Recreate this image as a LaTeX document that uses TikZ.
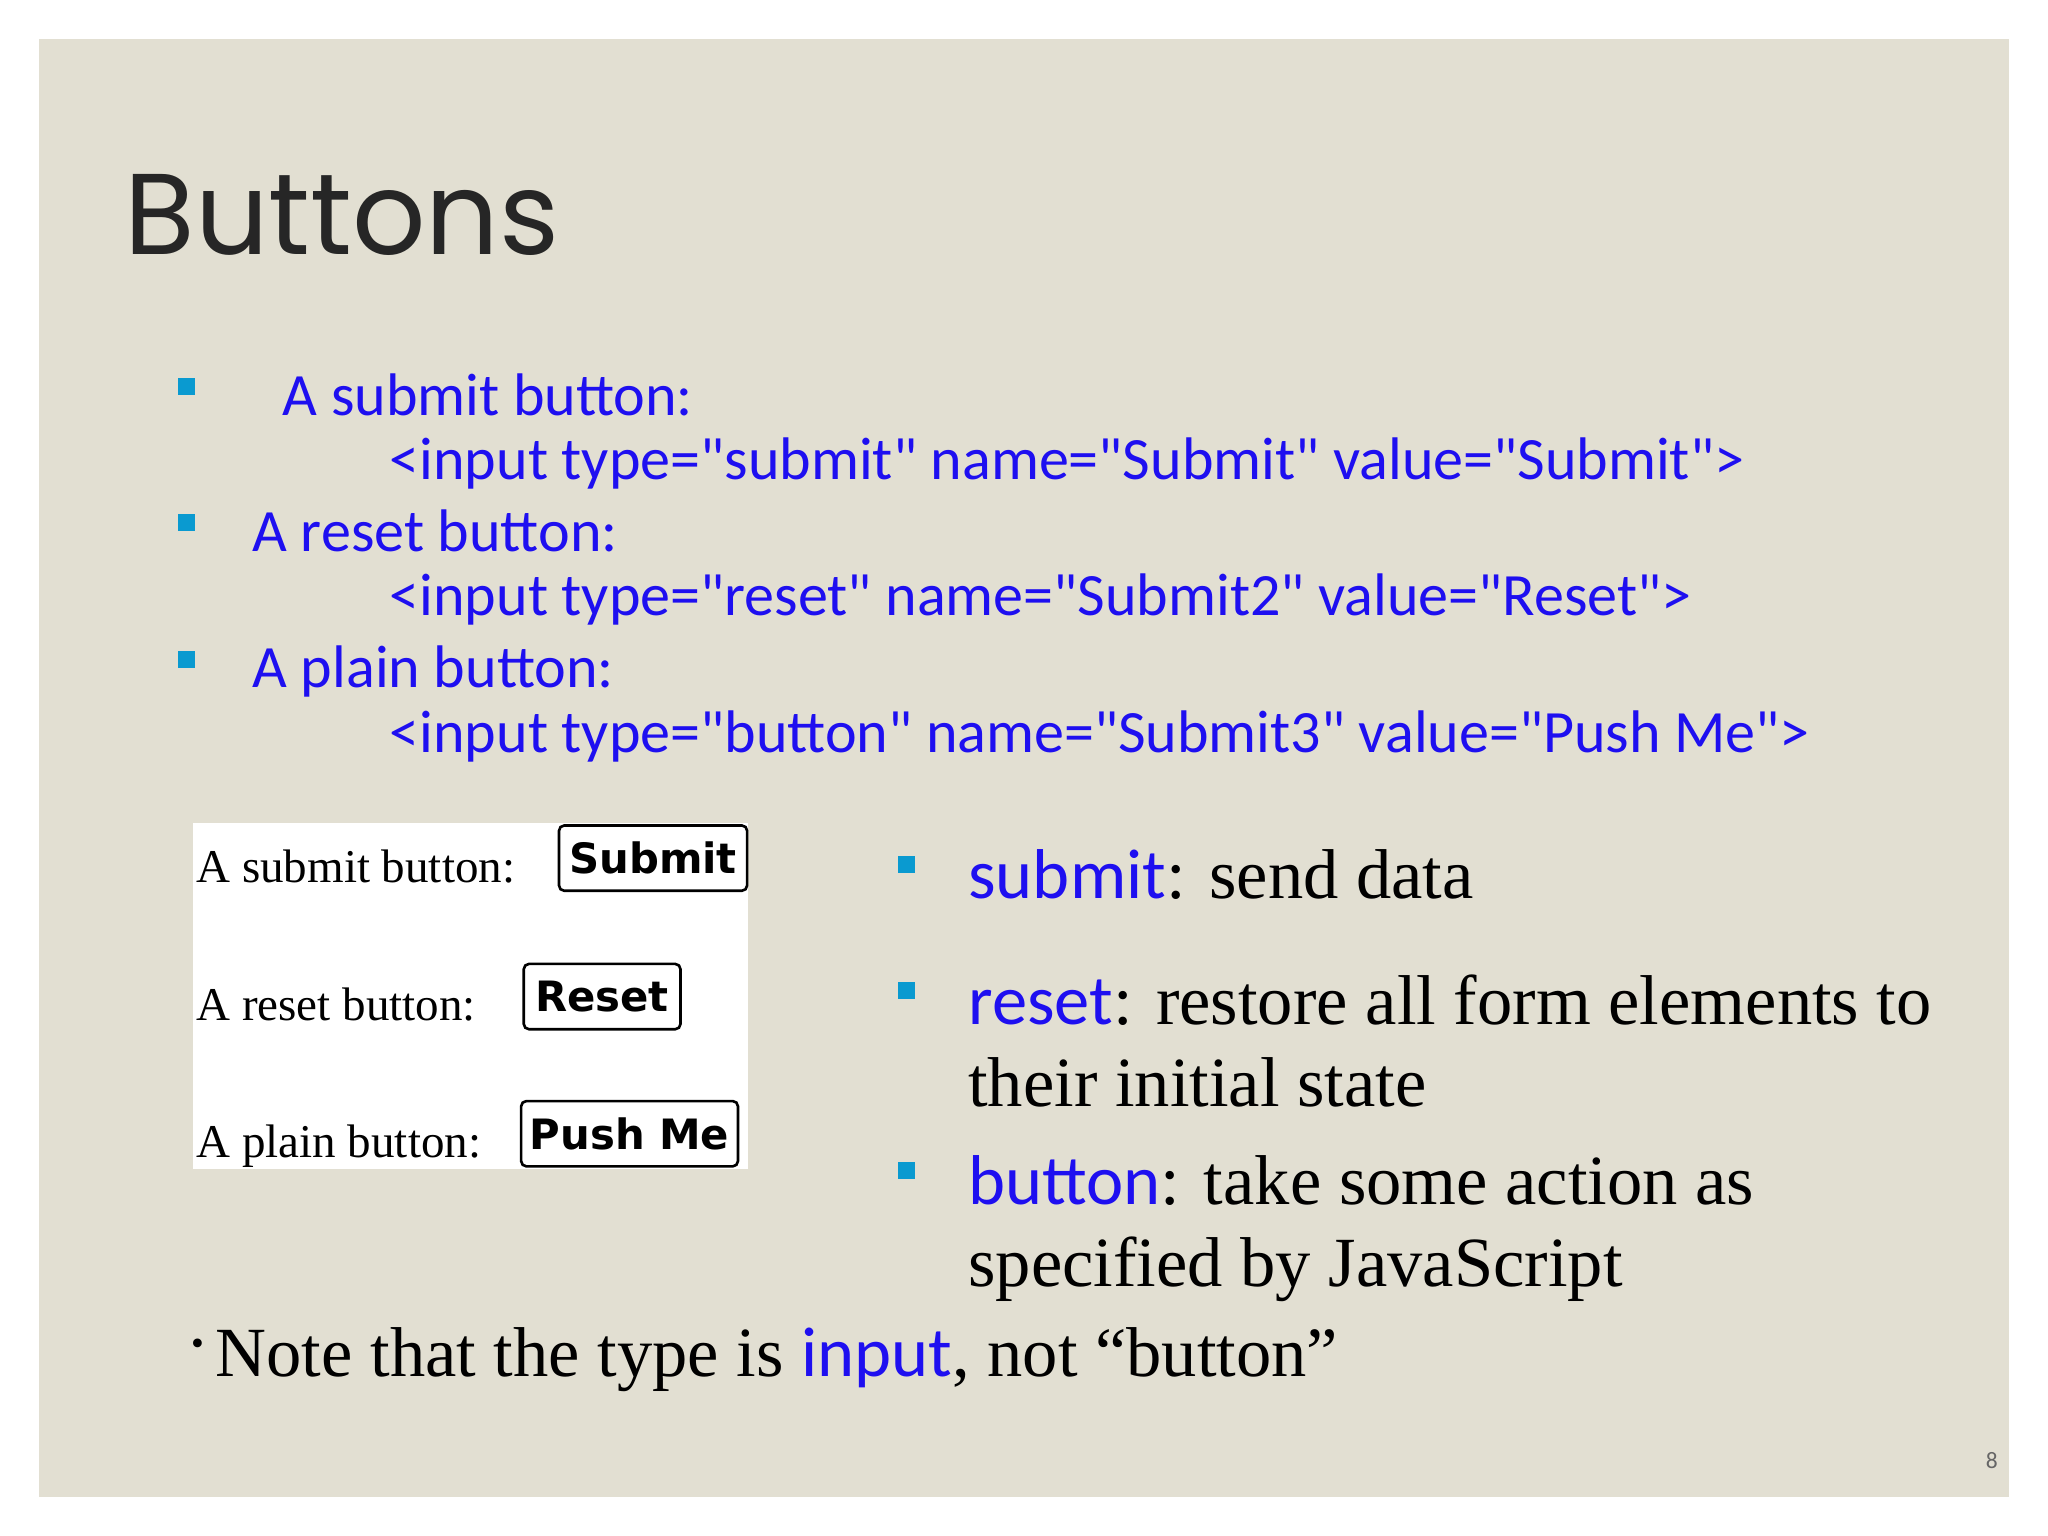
\documentclass[tikz,border=0pt]{standalone}
\usepackage{fontspec}
\setmainfont{Liberation Serif}
\newfontfamily\calfnt{Carlito}
\newfontfamily\ttlfnt{Poppins}
\newfontfamily\btnfnt{DejaVu Sans}
\definecolor{bg}{HTML}{E2DFD2}
\definecolor{blu}{HTML}{1E0FF0}
\definecolor{cy}{HTML}{0A9AD0}
\begin{document}
\begin{tikzpicture}[x=0.5pt,y=-0.5pt,
 bl/.style={anchor=base west,inner sep=0,text=blu,font=\calfnt\fontsize{23}{28}\selectfont},
 br/.style={anchor=base west,inner sep=0,font=\fontsize{27}{32}\selectfont},
 sq/.style={fill=cy,minimum size=6.5pt,inner sep=0},
 lab/.style={anchor=base west,inner sep=0,font=\fontsize{18}{20}\selectfont},
 bt/.style={draw,line width=1pt,rounded corners=2pt,inner sep=0,font=\btnfnt\bfseries\fontsize{16}{18}\selectfont}]
\useasboundingbox (0,0) rectangle (1568,1176);
\fill[white] (0,0) rectangle (1568,1176);
\fill[bg] (30,30) rectangle (1538,1146);
\node[anchor=base west,inner sep=0,text=black!85,font=\ttlfnt\fontsize{44}{50}\selectfont] (t) at (95,195) {Buttons};
\node[sq] (s1) at (143,296) {}; \node[sq] (s2) at (143,400) {}; \node[sq] (s3) at (143,505) {};
\node[bl] (a1) at (216,318) {A submit button:};
\node[bl] (c1) at (298,367) {<input type="submit" name="Submit" value="Submit">};
\node[bl] (a2) at (193,422) {A reset button:};
\node[bl] (c2) at (298,471) {<input type="reset" name="Submit2" value="Reset">};
\node[bl] (a3) at (193,526) {A plain button:};
\node[bl] (c3) at (298,576) {<input type="button" name="Submit3" value="Push Me">};
\fill[white] (148,630) rectangle (573,895);
\node[lab] (l1) at (150,676) {A submit button:};
\node[lab] (l2) at (150,781) {A reset button:};
\node[lab] (l3) at (150,886) {A plain button:};
\node[bt,minimum width=72pt,minimum height=25pt] (b1) at (500,657) {Submit};
\node[bt,minimum width=60pt,minimum height=25pt] (b2) at (461,763) {Reset};
\node[bt,minimum width=83pt,minimum height=25pt] (b3) at (482,868) {Push Me};
\node[sq] (s4) at (694,662) {}; \node[sq] (s5) at (694,758) {}; \node[sq] (s6) at (694,896) {};
\node[br] (r1) at (741,688) {{\calfnt\color{blu}submit}: send data};
\node[br] (r2) at (741,784) {{\calfnt\color{blu}reset}: restore all form elements to};
\node[br] (r3) at (741,847) {their initial state};
\node[br] (r4) at (741,922) {{\calfnt\color{blu}button}: take some action as};
\node[br] (r5) at (741,985) {specified by JavaScript};
\node[br] (n) at (146,1054) {\raisebox{8pt}{\fontsize{14}{14}\selectfont•}\,Note that the type is {\calfnt\color{blu}input}, not “button”};
\node[anchor=base east,inner sep=0,text=black!60,font=\calfnt\fontsize{9}{10}\selectfont] (p) at (1530,1124) {8};
\end{tikzpicture}
\end{document}
